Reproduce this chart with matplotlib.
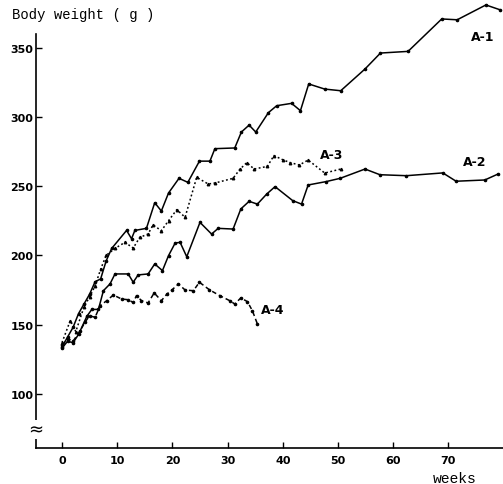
import matplotlib.pyplot as plt

# body weight (g) against weeks
a1_wk = [0, 1, 2, 3, 4, 5, 6, 7, 8, 9, 11.7, 12.6, 13.2, 15.3, 16.8, 18, 19.3, 21.2, 22.8,
         24.9, 26.8, 27.7, 31.3, 32.5, 33.9, 35.1, 37.4, 38.9, 41.6, 43.2, 44.7, 47.6,
         50.5, 54.9, 57.7, 62.7, 68.8, 71.6, 76.8, 79.3]
a1_g = [134, 141, 148, 158, 165, 172, 181, 183, 196, 205, 218, 212, 218, 219.5, 238, 232,
        245, 255.6, 252.7, 268, 268, 277, 277.5, 289, 294, 289, 303, 308, 309.7, 304.4,
        323.7, 320, 318.8, 334.5, 346, 347.2, 370.6, 370, 380.7, 377.3]

a2_wk = [0, 1, 2, 3, 4.5, 5.4, 6.6, 7.5, 8.7, 9.6, 12, 12.9, 13.8, 15.6, 16.8, 18.2, 19.3,
         20.5, 21.4, 22.6, 25, 27.1, 28.3, 31, 32.4, 33.9, 35.4, 37.1, 38.6, 41.8, 43.4,
         44.6, 47.8, 50.4, 54.9, 57.6, 62.4, 69, 71.4, 76.6, 79]
a2_g = [133, 138, 137, 143, 156, 161, 161, 174.5, 179.4, 186.6, 186.6, 180.6, 185.9, 186.6,
        193.8, 189, 199.8, 208.9, 209.4, 199, 223.8, 215.4, 219.5, 219, 233.5, 239, 237,
        244.3, 249.6, 239.5, 237, 250.8, 253.2, 255.6, 262.3, 258.2, 257.5, 259.5, 253.5,
        254.4, 258.7]

a3_wk = [0, 1.5, 2.5, 4, 5, 6, 7, 8, 9.6, 11.4, 12.9, 14.1, 15.6, 16.5, 18, 19.3, 20.8,
         22.3, 24.4, 26.5, 27.7, 31, 32.2, 33.5, 34.8, 37.2, 38.4, 40, 41.3, 43, 44.6,
         47.6, 50.5]
a3_g = [137, 153, 145, 163, 170, 178, 190, 200, 205, 209.4, 205.3, 213, 215.4, 222, 217.8,
        225, 233, 227.5, 256.3, 251.5, 252.2, 255.6, 262, 267, 262.3, 264.2, 272, 269, 267,
        265.2, 268.8, 259.4, 262.3]

a4_wk = [0, 1, 2, 3.3, 4.2, 5, 6, 6.9, 8.1, 9.3, 10.8, 12, 12.9, 13.5, 14.4, 15.6, 16.7,
         18, 19, 19.9, 21.1, 22.3, 23.8, 24.9, 26.7, 28.6, 30.4, 31.3, 32.4, 33.6, 34.5,
         35.4]
a4_g = [135, 140, 138, 145.7, 152, 156.4, 155.3, 163.7, 167.3, 171.4, 168.5, 168, 166, 171,
        167.3, 165.7, 172.9, 167.3, 172, 175, 179.4, 175, 174.5, 180.6, 175.2, 170.9, 167.3,
        164.9, 169.3, 166.6, 160, 150.5]

yticks = [100, 150, 200, 250, 300, 350]
xticks = [0, 10, 20, 30, 40, 50, 60, 70]

fig = plt.figure(figsize=(5.03, 4.85), dpi=100)
ax = fig.add_axes([36 / 503, 36 / 485, 1 - 36 / 503, 1 - 36 / 485])

ax.plot(a1_wk, a1_g, '-', color='black', lw=1.1, marker='o', ms=1.6)
ax.plot(a2_wk, a2_g, '-', color='black', lw=1.1, marker='o', ms=1.6)
ax.plot(a3_wk, a3_g, color='black', lw=1.1, ls=(0, (1.2, 1.6)), marker='^', ms=1.8)
ax.plot(a4_wk, a4_g, color='black', lw=1.1, ls=(0, (3, 2)), marker='o', ms=1.6)

lab = dict(fontsize=9, fontweight='bold', ha='center', va='center')
ax.text(76.3, 358, 'A-1', **lab)
ax.text(74.8, 268, 'A-2', **lab)
ax.text(48.9, 273, 'A-3', **lab)
ax.text(38.2, 161, 'A-4', **lab)

ax.set_xlim(-4.71, 79.9)
ax.set_ylim(61, 385)
for s in ['top', 'right']:
    ax.spines[s].set_visible(False)
ax.spines['left'].set_bounds(61, 360)
ax.spines['left'].set_linewidth(1.2)
ax.spines['bottom'].set_linewidth(1.2)

ax.set_xticks(xticks)
ax.set_yticks(yticks)
ax.tick_params(direction='in', length=4, width=1)
ax.tick_params(axis='y', pad=2, labelsize=8)
ax.tick_params(axis='x', pad=5, labelsize=8)
for t in ax.get_xticklabels() + ax.get_yticklabels():
    t.set_fontweight('bold')

# axis break mark
ax.text(-4.71, 74.5, '\u2248', fontsize=13, ha='center', va='center',
        bbox=dict(facecolor='white', edgecolor='none', pad=0.5))

fig.text(12 / 503, 1 - 15 / 485, 'Body weight ( g )', family='Liberation Mono',
         fontsize=10, ha='left', va='center')
fig.text(455 / 503, 1 - 479 / 485, 'weeks', family='Liberation Mono',
         fontsize=10.5, ha='center', va='center')

fig.savefig('out.png', dpi=100)
